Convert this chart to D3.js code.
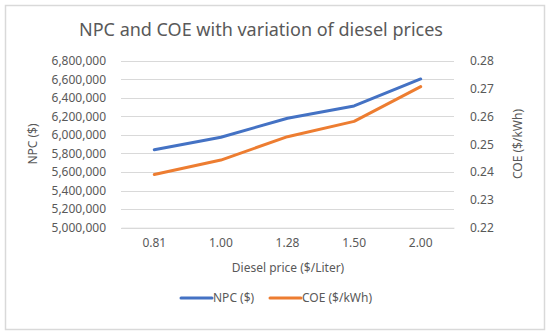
<!DOCTYPE html>
<html>
<head>
<meta charset="utf-8">
<script src="https://cdn.jsdelivr.net/npm/d3@7"></script>
<style>
  body { margin: 0; background: #fff; }
  text { font-family: 'Noto Sans', 'Open Sans', sans-serif; fill: #595959; }
</style>
</head>
<body>
<div id="chart"></div>
<script>
// data
var prices = ['0.81', '1.00', '1.28', '1.50', '2.00'];
var npcValues = [5840000, 5975000, 6180000, 6312000, 6603000];
var coeValues = [0.2391, 0.2443, 0.2527, 0.2582, 0.2707];
var npcTicks = [5000000, 5200000, 5400000, 5600000, 5800000, 6000000, 6200000, 6400000, 6600000, 6800000];
var coeTicks = [0.22, 0.23, 0.24, 0.25, 0.26, 0.27, 0.28];

var attrs = {
  svgWidth: 550,
  svgHeight: 334,
  plotLeft: 121,
  plotRight: 454,
  plotTop: 60.7,
  plotBottom: 227.7,
  npcColor: '#4472C4',
  coeColor: '#ED7D31',
  gridColor: '#d9d9d9'
};

var svg = d3.select('#chart').append('svg')
  .attr('width', attrs.svgWidth)
  .attr('height', attrs.svgHeight);

// chart border
svg.append('rect')
  .attr('x', 5.5).attr('y', 5.5)
  .attr('width', 539).attr('height', 324)
  .attr('fill', '#fff')
  .attr('stroke', '#d9d9d9')
  .attr('stroke-width', 1.5);

//scales
var x = d3.scaleBand().domain(prices).range([attrs.plotLeft, attrs.plotRight]);
var yLeft = d3.scaleLinear().domain([5000000, 6800000]).range([attrs.plotBottom, attrs.plotTop]);
var yRight = d3.scaleLinear().domain([0.22, 0.28]).range([attrs.plotBottom, attrs.plotTop]);

// gridlines
svg.append('g').selectAll('line').data(npcTicks).enter().append('line')
  .attr('x1', attrs.plotLeft).attr('x2', attrs.plotRight)
  .attr('y1', d => Math.round(yLeft(d)) + 0.5).attr('y2', d => Math.round(yLeft(d)) + 0.5)
  .attr('stroke', attrs.gridColor).attr('stroke-width', 1);

// left axis
var leftAxis = svg.append('g')
  .attr('transform', 'translate(' + attrs.plotLeft + ',0)')
  .call(d3.axisLeft(yLeft).tickValues(npcTicks).tickFormat(d3.format(',')).tickSize(0).tickPadding(15));
leftAxis.select('.domain').remove();
leftAxis.selectAll('text').style('font-size', '12px').attr('fill', '#595959');

// right axis
var rightAxis = svg.append('g')
  .attr('transform', 'translate(' + attrs.plotRight + ',0)')
  .call(d3.axisRight(yRight).tickValues(coeTicks).tickFormat(d3.format('.2f')).tickSize(0).tickPadding(16));
rightAxis.select('.domain').remove();
rightAxis.selectAll('text').style('font-size', '12px').attr('fill', '#595959');

// bottom axis
var bottomAxis = svg.append('g')
  .attr('transform', 'translate(0,' + attrs.plotBottom + ')')
  .call(d3.axisBottom(x).tickSize(0).tickPadding(11));
bottomAxis.select('.domain').attr('stroke', attrs.gridColor);
bottomAxis.selectAll('text').style('font-size', '12px').attr('fill', '#595959');

// lines
var lineNpc = d3.line().x((d, i) => x(prices[i]) + x.bandwidth() / 2).y(d => yLeft(d));
var lineCoe = d3.line().x((d, i) => x(prices[i]) + x.bandwidth() / 2).y(d => yRight(d));

svg.append('path').datum(npcValues)
  .attr('d', lineNpc).attr('fill', 'none')
  .attr('stroke', attrs.npcColor).attr('stroke-width', 3).attr('stroke-linecap', 'round').attr('stroke-linejoin', 'round');

svg.append('path').datum(coeValues)
  .attr('d', lineCoe).attr('fill', 'none')
  .attr('stroke', attrs.coeColor).attr('stroke-width', 3).attr('stroke-linecap', 'round').attr('stroke-linejoin', 'round');

// title
svg.append('text')
  .attr('x', 261).attr('y', 36)
  .attr('text-anchor', 'middle')
  .style('font-size', '18px')
  .text('NPC and COE with variation of diesel prices');

// axis titles
svg.append('text')
  .attr('transform', 'translate(37,144) rotate(-90)')
  .attr('text-anchor', 'middle')
  .style('font-size', '12px')
  .text('NPC ($)');

svg.append('text')
  .attr('transform', 'translate(522,144) rotate(-90)')
  .attr('text-anchor', 'middle')
  .style('font-size', '12px')
  .text('COE ($/kWh)');

svg.append('text')
  .attr('x', 288).attr('y', 272)
  .attr('text-anchor', 'middle')
  .style('font-size', '12px')
  .text('Diesel price ($/Liter)');

// legend
var legendItems = [
  { label: 'NPC ($)', color: attrs.npcColor, x: 181 },
  { label: 'COE ($/kWh)', color: attrs.coeColor, x: 270 }
];
var legend = svg.append('g').selectAll('g').data(legendItems).enter().append('g')
  .attr('transform', d => 'translate(' + d.x + ',298)');
legend.append('line')
  .attr('x1', 0).attr('x2', 31).attr('y1', 0).attr('y2', 0)
  .attr('stroke', d => d.color).attr('stroke-width', 3).attr('stroke-linecap', 'round');
legend.append('text')
  .attr('x', 32).attr('y', 4)
  .style('font-size', '12px')
  .text(d => d.label);
</script>
</body>
</html>
